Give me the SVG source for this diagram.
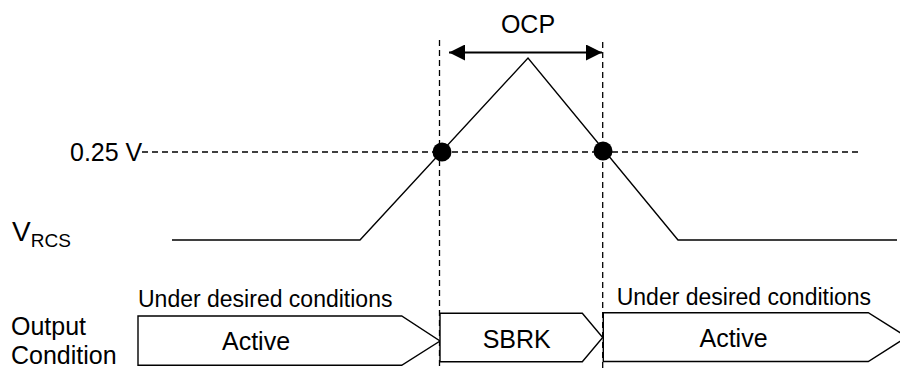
<svg xmlns="http://www.w3.org/2000/svg" width="900" height="369" viewBox="0 0 900 369">
<style>
text{font-family:"Liberation Sans",Arial,sans-serif;fill:#000}
.lbl{font-size:25px}
.sm{font-size:23px}
.dash{stroke:#000;stroke-width:1.3;stroke-dasharray:6 4;fill:none}
.wave{stroke:#000;stroke-width:1.4;fill:none}
.box{stroke:#000;stroke-width:1.4;fill:#fff}
</style>
<defs>
<marker id="ah" viewBox="0 0 16 16" refX="16" refY="8" markerWidth="16" markerHeight="16" markerUnits="userSpaceOnUse" orient="auto-start-reverse">
<path d="M0,0 L16,8 L0,16 Z" fill="#000"/>
</marker>
</defs>
<g id="guides">
<line class="dash" x1="439.5" y1="40" x2="439.5" y2="369"/>
<line class="dash" x1="602.7" y1="42" x2="602.7" y2="369"/>
<line class="dash" x1="142" y1="152" x2="862" y2="152"/>
</g>
<g id="connectors">
<line x1="449" y1="52.5" x2="602" y2="52.5" stroke="#000" stroke-width="2.2" marker-start="url(#ah)" marker-end="url(#ah)"/>
</g>
<g id="waveform">
<polyline class="wave" points="172,240 360,240 528,58 678,240 897,240"/>
<circle cx="442" cy="152" r="9.5" fill="#000"/>
<circle cx="603" cy="151" r="9.5" fill="#000"/>
</g>
<g id="labels">
<text class="lbl" x="528" y="33" text-anchor="middle">OCP</text>
<text class="lbl" x="70" y="161">0.25 V</text>
<text x="12" y="240.5" style="font-size:28px">V<tspan style="font-size:19px" y="246.5">RCS</tspan></text>
<text class="lbl" x="11" y="335">Output</text>
<text class="lbl" x="11" y="364">Condition</text>
</g>
<g id="state-active1">
<polygon class="box" points="138,316 401.7,316 440,341 401.7,365.3 138,365.3"/>
<text class="sm" x="138" y="306.7">Under desired conditions</text>
<text class="lbl" x="256" y="350" text-anchor="middle">Active</text>
</g>
<g id="state-sbrk">
<polygon class="box" points="440,313.3 582.3,313.3 602.7,337.5 582.3,361.7 440,361.7"/>
<text class="lbl" x="516.7" y="348" text-anchor="middle">SBRK</text>
</g>
<g id="state-active2">
<polygon class="box" points="603.3,312.7 868.3,312.7 907,337 868.3,361.5 603.3,361.5"/>
<text class="sm" x="616.7" y="305">Under desired conditions</text>
<text class="lbl" x="733.5" y="346.7" text-anchor="middle">Active</text>
</g>
</svg>
